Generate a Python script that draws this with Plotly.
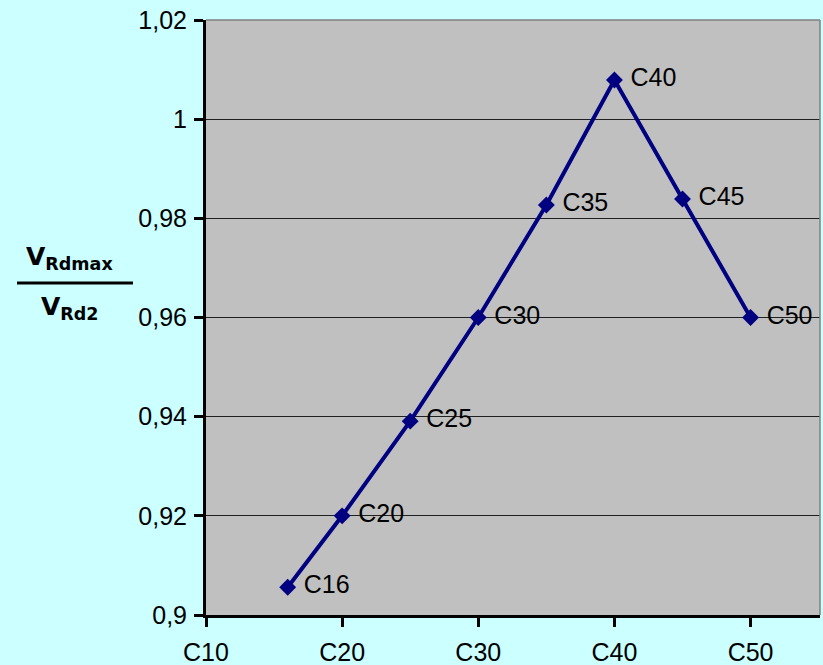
import plotly.graph_objects as go

grades = [16, 20, 25, 30, 35, 40, 45, 50]
labels = ["C16", "C20", "C25", "C30", "C35", "C40", "C45", "C50"]
ratio = [0.9056, 0.920, 0.9391, 0.960, 0.9827, 1.0079, 0.9839, 0.960]

tick_vals = [10, 20, 30, 40, 50]
tick_text = ["C10", "C20", "C30", "C40", "C50"]

FONT = "Arial, Liberation Sans, sans-serif"

fig = go.Figure()
fig.add_trace(go.Scatter(
    x=grades, y=ratio, mode="lines+markers+text",
    text=labels, texttemplate=" %{text}", textposition="middle right",
    textfont=dict(family=FONT, size=25, color="black"),
    line=dict(color="#000080", width=4),
    marker=dict(symbol="diamond", size=13, color="#000080"),
    cliponaxis=False,
))

fig.update_layout(
    width=823, height=665,
    margin=dict(l=206, r=3, t=20, b=50, autoexpand=False),
    paper_bgcolor="#ccffff",
    plot_bgcolor="#c0c0c0",
    separators=", ",
    showlegend=False,
    font=dict(family=FONT, size=25, color="black"),
    xaxis=dict(
        range=[10, 55.1], tickvals=tick_vals, ticktext=tick_text,
        showgrid=False, zeroline=False, automargin=False,
        showline=True, linecolor="black", linewidth=3,
        ticks="outside", ticklen=9, tickwidth=3, tickcolor="black",
        tickfont=dict(size=25), ticklabelstandoff=4,
    ),
    yaxis=dict(
        range=[0.9, 1.02], dtick=0.02, tickformat=".2~f",
        showgrid=True, gridcolor="#202020", gridwidth=1,
        zeroline=False, automargin=False,
        showline=True, linecolor="black", linewidth=3,
        ticks="outside", ticklen=9, tickwidth=3, tickcolor="black",
        tickfont=dict(size=25), ticklabelstandoff=2,
    ),
)

# thin grey border on top and right of the plot area
fig.add_shape(type="line", xref="paper", yref="paper", x0=0, x1=1, y0=1, y1=1,
              line=dict(color="#808080", width=1.5))
fig.add_shape(type="line", xref="paper", yref="paper", x0=1, x1=1, y0=0, y1=1,
              line=dict(color="#808080", width=1.5))

# fraction-style y axis title
TFONT = dict(family="DejaVu Sans, Arial", size=25, color="black")
fig.add_annotation(xref="paper", yref="paper", x=-0.2215, y=0.600,
                   text="<b>V<sub>Rdmax</sub></b>", showarrow=False,
                   font=TFONT, xanchor="center", yanchor="middle")
fig.add_annotation(xref="paper", yref="paper", x=-0.2215, y=0.516,
                   text="<b>V<sub>Rd2</sub></b>", showarrow=False,
                   font=TFONT, xanchor="center", yanchor="middle")
fig.add_shape(type="line", xref="paper", yref="paper",
              x0=-0.3078, x1=-0.1189, y0=0.558, y1=0.558,
              line=dict(color="black", width=3))

fig.write_html("out.html", config={"displayModeBar": False},
               post_script="document.body.style.margin='0';document.body.style.background='#ccffff';")
